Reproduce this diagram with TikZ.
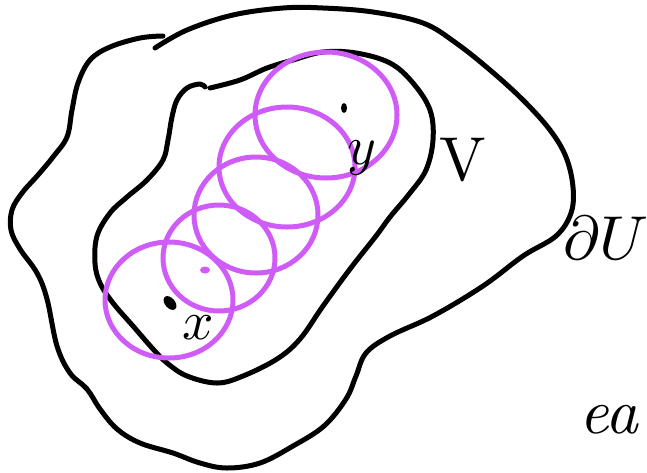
\documentclass[tikz,border=0pt]{standalone}
\usepackage{amsmath}
\definecolor{penpurple}{RGB}{208,92,248}
\begin{document}
\begin{tikzpicture}[x=1pt,y=-1pt,
  ink/.style={draw=black,line width=5pt,line cap=round,line join=round},
  ball/.style={draw=penpurple,line width=5pt},
  lbl/.style={inner sep=0pt,anchor=center}]
\useasboundingbox (0,0) rectangle (647,472);
% outer region U
\draw[ink] plot[smooth,tension=0.6] coordinates {
 (155,48) (187,30) (233,15) (283,8) (323,8) (373,12) (423,23) (456,43)
 (490,70) (523,100) (550,130) (566,157) (573,187) (571,213) (556,236)
 (523,256) (483,286) (433,316) (390,336) (366,353) (356,376) (346,399)
 (324,426) (293,446) (260,463) (227,468) (200,463) (173,453) (140,443)
 (117,429) (100,409) (87,389) (70,373) (57,346) (47,299) (37,273)
 (20,249) (11,230) (12,210) (22,193) (38,175) (53,157) (67,137) (72,110)
 (78,83) (90,60) (110,47) (140,38) (163,36)};
% inner region V
\draw[ink] plot[smooth,tension=0.6] coordinates {
 (210,88) (240,80) (267,68) (293,60) (323,52) (356,53) (390,63) (413,83)
 (430,110) (433,140) (426,170) (410,193) (390,217) (376,236) (350,269)
 (323,306) (300,339) (277,359) (243,376) (217,383) (187,376) (167,363)
 (153,349) (133,326) (113,303) (100,283) (95,263) (97,236) (110,213)
 (127,197) (147,180) (163,160) (168,140) (172,117) (177,100) (187,88)
 (200,84) (205,87)};
% chain of balls
\draw[ball] (326,115) ellipse [x radius=71pt, y radius=63pt];
\draw[ball] (287,167) ellipse [x radius=68pt, y radius=60pt];
\draw[ball] (256,215) ellipse [x radius=62pt, y radius=58pt];
\draw[ball] (219,258) ellipse [x radius=56pt, y radius=53pt];
\draw[ball] (169,300) ellipse [x radius=64pt, y radius=58pt];
% dots
\fill[black] (344,108) ellipse [x radius=3pt, y radius=5pt];
\fill[black,rotate around={40:(170,303)}] (170,303) ellipse [x radius=5pt, y radius=8pt];
\fill[penpurple] (205,270) ellipse [x radius=5pt, y radius=3.5pt];
% labels
\node[lbl,scale=5.5] (xlab) at (198,328) {$x$};
\node[lbl,scale=5.5] (ylab) at (362,158) {$y$};
\node[lbl,scale=6.2] (vlab) at (463,160) {V};
\node[lbl,anchor=west,scale=6.2] (dulab) at (562,238) {$\partial U$};
\node[lbl,anchor=west,scale=6.4] (ealab) at (578,420) {\itshape ea};
\end{tikzpicture}
\end{document}
